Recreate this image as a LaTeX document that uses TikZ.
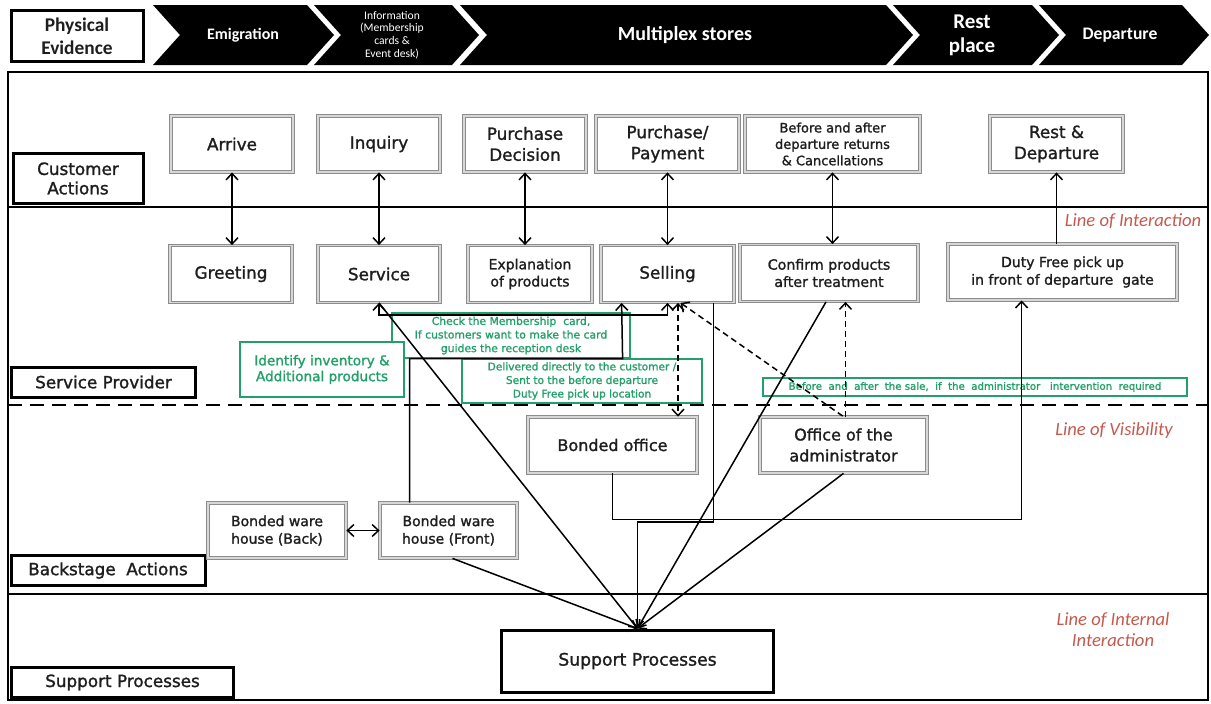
\documentclass[tikz,border=0pt]{standalone}
\usepackage{fontspec}
\setmainfont{DejaVu Sans}[FakeBold=1.4]
\newfontfamily\calfont{Carlito}
\usetikzlibrary{arrows.meta,calc}
\definecolor{bpGreen}{RGB}{35,160,105}
\definecolor{bpRed}  {RGB}{196, 90, 78}
\definecolor{bpFrame}{RGB}{140,140,140}
\definecolor{bpInk}  {RGB}{ 30, 30, 30}
\newcommand{\fsz}[2]{\fontsize{#1}{#2}\selectfont}

\begin{document}
\begin{tikzpicture}[x=0.5pt,y=-0.5pt,
    >={Straight Barb[length=3.2pt,width=6pt]},
    act/.style={draw=bpFrame,double=bpFrame!35,double distance=0.9pt,
                line width=0.4pt,fill=white,align=center,inner sep=1pt,
                text=bpInk,font=\fsz{8.4}{10.5}},
    lane/.style={draw=black,line width=1.5pt,fill=white,inner sep=1pt,
                 align=center,text=bpInk,font=\fsz{8.4}{9.7}},
    note/.style={draw=bpGreen,line width=0.6pt,fill=white,text=bpGreen,
                 align=center,inner sep=1pt},
    bantxt/.style={text=white,align=center,font=\calfont\bfseries\fsz{8}{9.5}},
    lineLbl/.style={text=bpRed,align=center,font=\calfont\itshape\fsz{9.3}{10.5}},
    link/.style={line width=0.75pt},
    dlink/.style={line width=0.75pt,dash pattern=on 3pt off 2pt}]

    \useasboundingbox (0,0) rectangle (1211,703);

    % ── banner ───────────────────────────────────────────
    \foreach \a/\b in {153/307,314/452,460/886,893/1032,1039/1182}{
      \fill[black] (\a,5) -- (\b,5) -- (\b+27,35) -- (\b,65) -- (\a,65)
                   -- (\a+27,35) -- cycle;
    }
    \node[draw=black,line width=1.5pt,fill=white,minimum width=66pt,
          minimum height=25pt,align=center,text=bpInk,
          font=\calfont\bfseries\fsz{9.7}{11.5}] (phys) at (77,36)
          {Physical\\Evidence};
    \node[bantxt] (emig) at (243,35) {Emigration};
    \node[bantxt,font=\calfont\fsz{5.8}{6.4}] (info) at (392,35)
          {Information\\(Membership\\cards \&\\Event desk)};
    \node[bantxt,font=\calfont\bfseries\fsz{10}{12}] (multi) at (685,35)
          {Multiplex stores};
    \node[bantxt,font=\calfont\bfseries\fsz{10.5}{12}] (restpl) at (972,35)
          {Rest\\place};
    \node[bantxt,font=\calfont\bfseries\fsz{8.8}{10}] (depart) at (1120,35)
          {Departure};

    % ── frame and lines ─────────────────────────────────
    \draw[line width=1pt] (8,72) rectangle (1208,700);
    \draw[line width=1pt] (8,207) -- (1208,207);
    \draw[line width=1.3pt,dash pattern=on 7pt off 4pt] (8,405) -- (1208,405);
    \draw[line width=1pt] (8,594) -- (1208,594);

    \node[lineLbl] (loi)  at (1133,221) {Line of Interaction};
    \node[lineLbl] (lov)  at (1114,431) {Line of Visibility};
    \node[lineLbl] (loii) at (1113,630) {Line of Internal\\Interaction};

    % lanes
    \node[lane,minimum width=65pt,minimum height=25pt] (custL) at (78,178.5)
          {Customer\\Actions};
    \node[lane,minimum width=92pt,minimum height=15pt] (servL) at (103.5,382)
          {Service Provider};
    \node[lane,minimum width=97pt,minimum height=15pt] (backL) at (108,570.5)
          {Backstage\ \ Actions};
    \node[lane,minimum width=111pt,minimum height=15pt] (suppL) at (122.5,682.5)
          {Support Processes};

    % ── customer actions ────────────────────────────────
    \node[act,minimum width=61pt,minimum height=28pt] (arrive) at (232,144) {Arrive};
    \node[act,minimum width=61pt,minimum height=28pt] (inq) at (379,144) {Inquiry};
    \node[act,minimum width=61pt,minimum height=28pt] (pdec) at (525,144)
          {Purchase\\Decision};
    \node[act,minimum width=71.5pt,minimum height=28pt] (ppay) at (667.5,144)
          {Purchase/\\Payment};
    \node[act,minimum width=87.5pt,minimum height=28pt,font=\fsz{6.5}{8.2}]
          (befaft) at (832.5,144)
          {Before and after\\departure returns\\\& Cancellations};
    \node[act,minimum width=66.5pt,minimum height=28pt] (restdep) at (1056.5,144)
          {Rest \&\\Departure};

    % ── service provider ────────────────────────────────
    \node[act,minimum width=61pt,minimum height=28.5pt] (greet) at (231,274) {Greeting};
    \node[act,minimum width=61pt,minimum height=28.5pt] (serv) at (379,274) {Service};
    \node[act,minimum width=62pt,minimum height=28.5pt,font=\fsz{7}{8.6}]
          (expl) at (530,274) {Explanation\\of products};
    \node[act,minimum width=66.5pt,minimum height=28.5pt] (sell) at (667.5,274) {Selling};
    \node[act,minimum width=89pt,minimum height=28.5pt,font=\fsz{7.1}{8.6}]
          (conf) at (829,273) {Confirm products\\after treatment};
    \node[act,minimum width=114.5pt,minimum height=28pt,font=\fsz{7}{8.8}]
          (duty) at (1062.5,272) {Duty Free pick up\\in front of departure\ \ gate};

    % green remarks
    \node[note,minimum width=119pt,minimum height=22.5pt,font=\fsz{5.4}{6.8}]
          (check) at (511,335.5)
          {Check the Membership\ \ card,\\If customers\ want\ to make\ the\ card\\
           guides\ the reception\ desk};
    \node[note,minimum width=82pt,minimum height=27.5pt,font=\fsz{6.8}{7.9}]
          (ident) at (322,369.5) {Identify inventory \&\\Additional products};
    \node[note,minimum width=120pt,minimum height=22pt,font=\fsz{5.3}{6.8}]
          (deliv) at (582,381)
          {Delivered\ directly\ to the\ customer /\\Sent to the\ before\ departure\\
           Duty Free\ pick\ up location};
    \node[note,minimum width=212pt,minimum height=9pt,font=\fsz{5.1}{6}]
          (admnote) at (975,387)
          {Before\ \ and\ \ after\ \ the sale,\ \ if\ \ the\ \ administrator\ \ \ intervention\ \ required};

    % ── backstage ───────────────────────────────────────
    \node[act,minimum width=84.5pt,minimum height=28pt,font=\fsz{8}{10.5}]
          (bond) at (612.5,445) {Bonded\ office};
    \node[act,minimum width=83.5pt,minimum height=28pt,font=\fsz{8}{10.5}]
          (admin) at (843.5,445) {Office of the\\administrator};
    \node[act,minimum width=69pt,minimum height=27.5pt,font=\fsz{7}{8.8}]
          (whback) at (277,530.5) {Bonded ware\\house (Back)};
    \node[act,minimum width=68.5pt,minimum height=27.5pt,font=\fsz{7}{8.8}]
          (whfront) at (448.5,530.5) {Bonded ware\\house (Front)};

    % ── support ─────────────────────────────────────────
    \node[draw=black,line width=1.5pt,fill=white,minimum width=136pt,
          minimum height=31pt,text=bpInk,font=\fsz{8.6}{10}] (support) at (637.5,661)
          {Support\ Processes};

    % ── connectors ──────────────────────────────────────
    \foreach \a/\b in {arrive/greet,inq/serv,pdec/expl,ppay/sell,befaft/conf}{
      \draw[link,<->] (\a.south) -- (\a.south |- \b.north);
    }
    \draw[link,->] (restdep.south |- duty.north) -- (restdep.south);

    \draw[link,<->] (serv.south) -- ++(0,12) -| (sell.south);
    \draw[link,->] ($(whfront.north west)+(30,0)$) |- ($(check.south east)+(-8,0)$)
                   -- ($(sell.south west)+(21,0)$);
    \draw[link,<->] (whback) -- (whfront);

    % into support processes
    \draw[link,->] (serv.south) -- (support.north);
    \draw[link,->] ($(whfront.south)+(4,0)$) -- (support.north);
    \draw[link,->] ($(sell.south east)+(-21,0)$) -- ++(0,219) -| (support.north);
    \draw[link,->] ($(conf.south)+(-3,0)$) -- (support.north);
    \draw[link,->] (admin.south) -- (support.north);

    \draw[link,->] (bond.south) -- ++(0,46) -| ($(duty.south west)+(74,0)$);

    % dashed links
    \coordinate (sd) at ($(sell.south)+(10.5,0)$);
    \draw[dlink,<->] (sd) -- (sd |- bond.north);
    \draw[dlink,<-] ($(sell.south)+(13,0)$) -- (admin.north);
    \draw[dlink,->] ($(admin.north)+(2,0)$) -- ($(admin.north |- conf.south)+(2,0)$);

\end{tikzpicture}
\end{document}
